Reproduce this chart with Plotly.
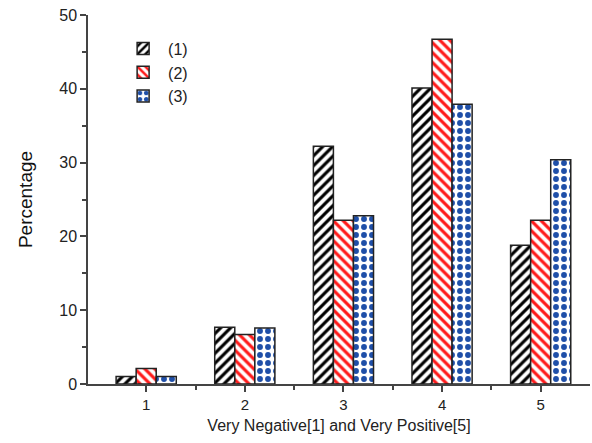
import plotly.graph_objects as go

categories = [1, 2, 3, 4, 5]
series_names = ["(1)", "(2)", "(3)"]
s1 = [1.0, 7.7, 32.2, 40.1, 18.8]
s2 = [2.1, 6.7, 22.2, 46.7, 22.2]
s3 = [1.0, 7.6, 22.8, 37.9, 30.4]
y_ticks = [0, 10, 20, 30, 40, 50]

styles = [
    dict(shape="/", fg="black", size=7, sol=0.45),
    dict(shape="\\", fg="#ff1a1a", size=7, sol=0.45),
    dict(shape=".", fg="#1f4fa8", size=8, sol=0.42),
]

fig = go.Figure()
for name, vals, st in zip(series_names, [s1, s2, s3], styles):
    fig.add_trace(go.Bar(
        x=categories, y=vals, name=name,
        marker=dict(
            color="white",
            line=dict(color="#222", width=1.5),
            pattern=dict(shape=st["shape"], fgcolor=st["fg"], bgcolor="white",
                         size=st["size"], solidity=st["sol"], fillmode="replace",
                         fgopacity=1),
        ),
    ))

font_family = "Liberation Sans, Arial, sans-serif"
fig.update_layout(
    width=592, height=443,
    margin=dict(l=88, r=2, t=15, b=59),
    paper_bgcolor="white", plot_bgcolor="white",
    barmode="group", bargap=0.39, bargroupgap=0,
    font=dict(family=font_family, color="#222", size=15),
    showlegend=True,
    legend=dict(x=0.06, y=0.955, xanchor="left", yanchor="top",
                bgcolor="rgba(0,0,0,0)", font=dict(size=16, color="#222"),
                itemwidth=40, tracegroupgap=2),
    xaxis=dict(
        range=[0.41, 5.5], tickmode="array", tickvals=categories,
        ticks="outside", ticklen=6, tickcolor="#444", tickwidth=1.5,
        showline=True, linecolor="#444", linewidth=1.5, showgrid=False,
        zeroline=False,
        minor=dict(tickmode="array", tickvals=[1.5, 2.5, 3.5, 4.5], ticks="outside",
                   ticklen=4, tickcolor="#444", tickwidth=1.5, showgrid=False),
        title=dict(text="Very Negative[1] and Very Positive[5]",
                   font=dict(size=16, color="#222"), standoff=8),
        tickfont=dict(size=15, color="#222"),
    ),
    yaxis=dict(
        range=[0, 50], tickmode="array", tickvals=y_ticks,
        ticks="outside", ticklen=6, tickcolor="#444", tickwidth=1.5,
        showline=True, linecolor="#444", linewidth=1.5, showgrid=False,
        zeroline=False,
        minor=dict(tickmode="array", tickvals=[5, 15, 25, 35, 45], ticks="outside",
                   ticklen=4, tickcolor="#444", tickwidth=1.5, showgrid=False),
        title=dict(text="Percentage", font=dict(size=19, color="#111"), standoff=22),
        tickfont=dict(size=16, color="#222"),
    ),
)

fig.write_html("out.html")
